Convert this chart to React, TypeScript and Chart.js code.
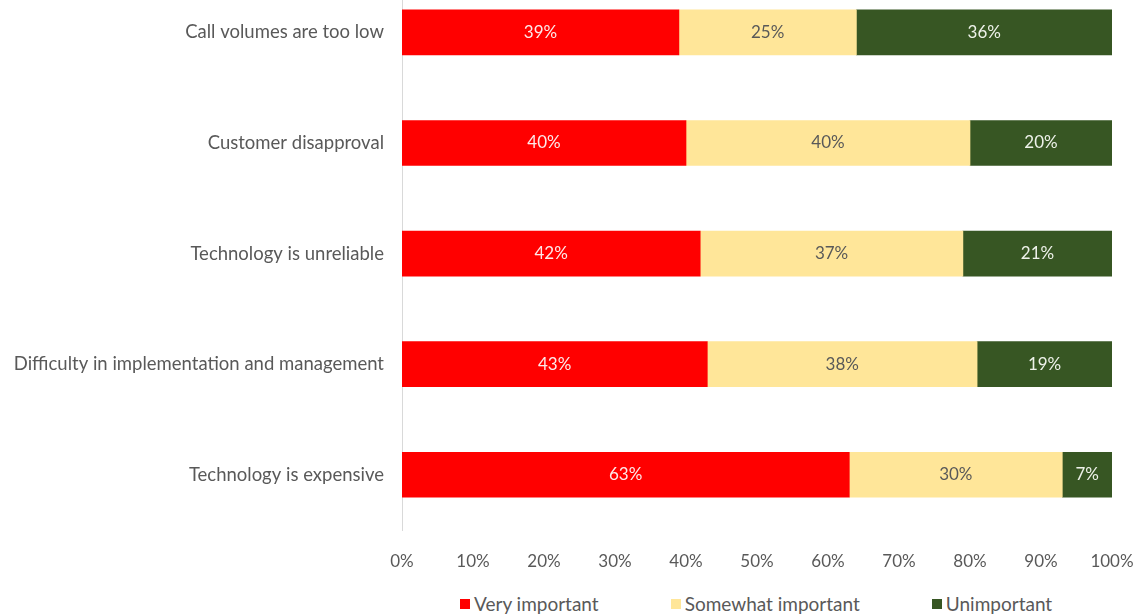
import React, { useEffect, useRef } from "react";
import { Chart, registerables } from "chart.js";

Chart.register(...registerables);

const categories = [
  "Call volumes are too low",
  "Customer disapproval",
  "Technology is unreliable",
  "Difficulty in implementation and management",
  "Technology is expensive",
];
const veryImportant = [39, 40, 42, 43, 63];
const somewhatImportant = [25, 40, 37, 38, 30];
const unimportant = [36, 20, 21, 19, 7];
const seriesNames = ["Very important", "Somewhat important", "Unimportant"];
const seriesColors = ["#ff0000", "#ffe699", "#375623"];
const labelColors = ["#fde9e9", "#595959", "#eef2ea"];
const xTickValues = [0, 10, 20, 30, 40, 50, 60, 70, 80, 90, 100];

const FONT = "Lato, 'Open Sans', sans-serif";

const segLabels = {
  id: "segLabels",
  afterDatasetsDraw(chart: any) {
    const ctx = chart.ctx;
    chart.data.datasets.forEach((ds: any, di: number) => {
      const meta = chart.getDatasetMeta(di);
      meta.data.forEach((bar: any, i: number) => {
        const p = bar.getProps(["x", "y", "base"], true);
        ctx.save();
        ctx.fillStyle = labelColors[di];
        ctx.font = `17px ${FONT}`;
        ctx.textAlign = "center";
        ctx.textBaseline = "middle";
        ctx.fillText(`${ds.data[i]}%`, (p.x + p.base) / 2, p.y);
        ctx.restore();
      });
    });
  },
};

export default function App() {
  const ref = useRef<HTMLCanvasElement>(null);
  useEffect(() => {
    if (!ref.current) return;
    const chart = new Chart(ref.current, {
      type: "bar",
      data: {
        labels: categories,
        datasets: [veryImportant, somewhatImportant, unimportant].map((d, i) => ({
          label: seriesNames[i],
          data: d,
          backgroundColor: seriesColors[i],
          borderWidth: 0,
          barThickness: 45,
        })),
      },
      options: {
        indexAxis: "y",
        animation: false,
        responsive: false,
        devicePixelRatio: 1,
        layout: { padding: { left: 0, right: 28, top: 0, bottom: 0 } },
        plugins: { legend: { display: false }, tooltip: { enabled: false } },
        scales: {
          x: {
            stacked: true,
            min: 0,
            max: 100,
            afterBuildTicks: (s: any) => {
              s.ticks = xTickValues.map((v) => ({ value: v }));
            },
            grid: { display: false },
            border: { display: false },
            ticks: {
              padding: 13,
              color: "#595959",
              font: { family: FONT, size: 17 },
              callback: (v: any) => `${v}%`,
            },
            afterFit: (s: any) => {
              s.height = 45;
              s.paddingRight = 0;
              s.paddingLeft = 0;
            },
          },
          y: {
            stacked: true,
            grid: { display: false, drawTicks: false },
            border: { display: true, color: "#d9d9d9", width: 1 },
            ticks: {
              padding: 18,
              color: "#595959",
              font: { family: FONT, size: 18.5 },
            },
            afterFit: (s: any) => {
              s.width = 402;
            },
          },
        },
      },
      plugins: [segLabels],
    } as any);
    return () => chart.destroy();
  }, []);

  return (
    <div
      style={{
        position: "fixed",
        left: 0,
        top: 0,
        width: 1140,
        height: 614,
        overflow: "hidden",
        background: "#fff",
      }}
    >
      <canvas
        ref={ref}
        width={1140}
        height={627}
        style={{ position: "absolute", left: 0, top: -52, width: 1140, height: 627 }}
      />
      <div
        style={{
          position: "absolute",
          left: 460,
          top: 592,
          display: "flex",
          gap: 72,
          fontFamily: FONT,
          fontSize: 19,
          color: "#595959",
          lineHeight: "24px",
          whiteSpace: "nowrap",
        }}
      >
        {seriesNames.map((n, i) => (
          <div key={n} style={{ display: "flex", alignItems: "center" }}>
            <span
              style={{
                display: "inline-block",
                width: 10,
                height: 10,
                background: seriesColors[i],
                marginRight: 4,
              }}
            />
            <span>{n}</span>
          </div>
        ))}
      </div>
    </div>
  );
}
